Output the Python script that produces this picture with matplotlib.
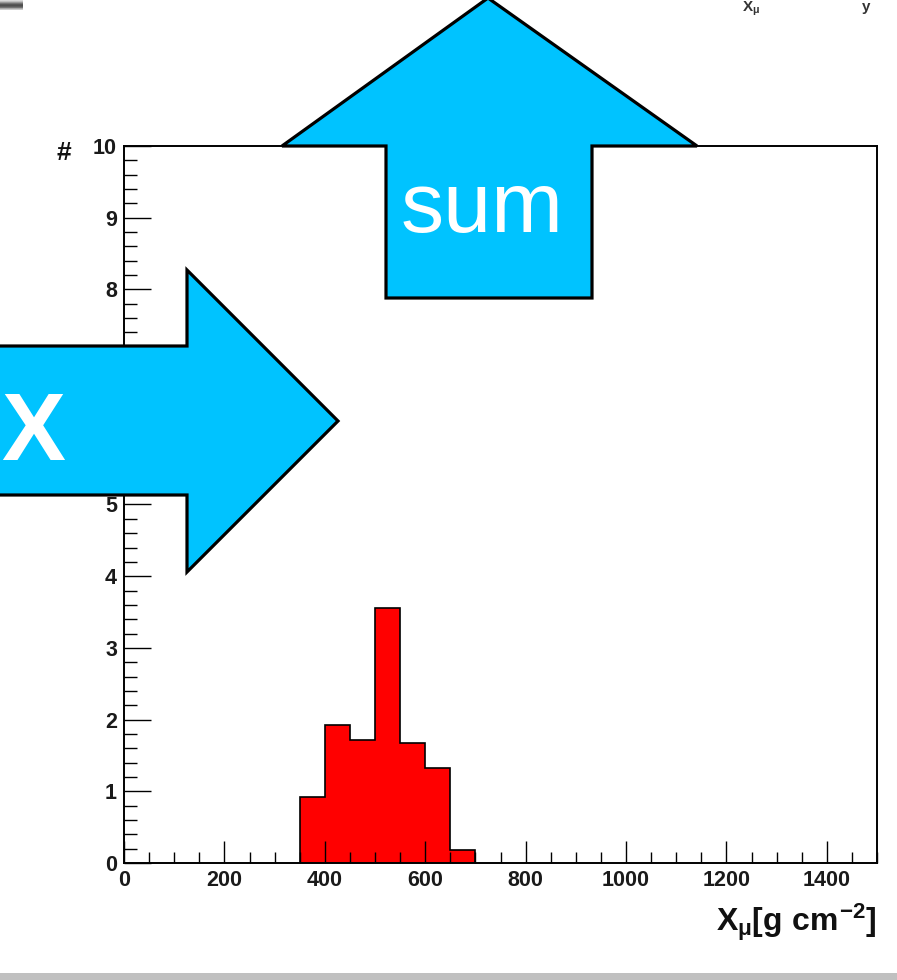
import numpy as np
import matplotlib
matplotlib.use("Agg")
import matplotlib.pyplot as plt
from matplotlib.patches import Polygon, Rectangle
from matplotlib.ticker import MultipleLocator

plt.rcParams["font.family"] = ["Liberation Sans", "DejaVu Sans"]
plt.rcParams["mathtext.fontset"] = "custom"
plt.rcParams["mathtext.rm"] = "Liberation Sans:bold"
plt.rcParams["mathtext.it"] = "Liberation Sans:bold"
plt.rcParams["mathtext.bf"] = "Liberation Sans:bold"

# Histogram of muon production depth
bin_edges = [350, 400, 450, 500, 550, 600, 650, 700]
counts = [0.92, 1.93, 1.72, 3.55, 1.67, 1.33, 0.18]
x_ticks = [0, 200, 400, 600, 800, 1000, 1200, 1400]
y_ticks = [0, 1, 2, 3, 4, 5, 6, 7, 8, 9, 10]
x_label = r"$X_{\mu}[g\ cm^{-2}]$"
y_label = "#"

W, H = 897, 980
fig = plt.figure(figsize=(W / 100, H / 100), dpi=100)
fig.patch.set_facecolor("white")

ax = fig.add_axes([124 / W, (H - 863) / H, (877 - 124) / W, (863 - 146) / H])
ax.stairs(counts, bin_edges, fill=True, facecolor="#ff0000",
          edgecolor="black", linewidth=1.2, baseline=0)
ax.set_xlim(0, 1500)
ax.set_ylim(0, 10)
ax.set_xticks(x_ticks)
ax.set_yticks(y_ticks)
ax.xaxis.set_minor_locator(MultipleLocator(50))
ax.yaxis.set_minor_locator(MultipleLocator(0.2))
ax.tick_params(axis="x", which="major", direction="in", length=15.8, width=1.0,
               pad=5, labelsize=15.5, top=False)
ax.tick_params(axis="x", which="minor", direction="in", length=7.9, width=1.0, top=False)
ax.tick_params(axis="y", which="major", direction="in", length=19.4, width=1.0,
               pad=5, labelsize=15.5, right=False)
ax.tick_params(axis="y", which="minor", direction="in", length=9.4, width=1.0, right=False)
for lab in ax.get_xticklabels() + ax.get_yticklabels():
    lab.set_fontweight("bold")
    lab.set_color("#1a1a1a")
for sp in ax.spines.values():
    sp.set_linewidth(1.4)
    sp.set_color("black")

# Overlay in pixel coordinates for labels and annotation arrows
ov = fig.add_axes([0, 0, 1, 1], zorder=5)
ov.set_xlim(0, W)
ov.set_ylim(H, 0)
ov.axis("off")
ov.patch.set_alpha(0)

ov.text(876, 922, x_label, ha="right", va="center", fontsize=23, color="#111111")
ov.text(64, 153, y_label, ha="center", va="center", fontsize=19,
        fontweight="bold", color="#111111")

# small header text along the top edge
ov.text(742, 0, r"$X_{\mu}$", ha="left", va="top", fontsize=11, color="#333333")
ov.text(862, 0, "y", ha="left", va="top", fontsize=11,
        fontweight="bold", color="#333333")

arrow_face = "#00c3ff"
up_arrow = [(386, 298), (386, 146), (282, 146), (488, -2),
            (697, 146), (592, 146), (592, 298)]
right_arrow = [(-10, 346), (187, 346), (187, 270), (338, 421),
               (187, 572), (187, 495), (-10, 495)]
for pts in (up_arrow, right_arrow):
    ov.add_patch(Polygon(pts, closed=True, facecolor=arrow_face,
                         edgecolor="black", linewidth=2.3, joinstyle="miter"))

ov.text(482, 232, "sum", ha="center", va="baseline", fontsize=62, color="white")
ov.text(33, 460, "X", ha="center", va="baseline", fontsize=69,
        fontweight="bold", color="white")

# window chrome
ov.add_patch(Rectangle((0, 973), W, 8, facecolor="#c0c0c0", edgecolor="none"))
grad = np.array([[0.85], [0.6], [0.35], [0.3], [0.45], [0.8]])
ov.imshow(grad, cmap="gray", vmin=0, vmax=1, extent=(0, 23, 10, 0),
          aspect="auto", interpolation="bilinear")
ov.set_xlim(0, W)
ov.set_ylim(H, 0)

fig.savefig("out.png", dpi=100)
